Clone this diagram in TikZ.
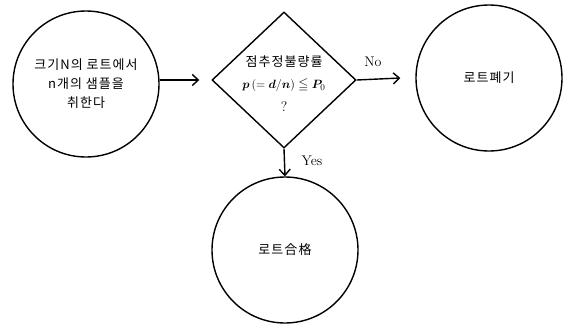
\documentclass[tikz,border=0pt]{standalone}
\usepackage{fontspec}
\usepackage{amssymb}
\usepackage{bm}
\newfontfamily\kr[LetterSpace=8]{Noto Sans CJK KR}
\usetikzlibrary{shapes.geometric,arrows.meta}
\begin{document}
\begin{tikzpicture}[x=1pt,y=-1pt,
  circ/.style={draw,circle,line width=1.4pt,minimum size=146pt,inner sep=0pt,align=center,font=\fontsize{13}{19}\kr},
  dia/.style={draw,diamond,line width=1.4pt,minimum width=144pt,minimum height=136pt,inner sep=0pt},
  dtext/.style={align=center,inner sep=0pt,font=\fontsize{13}{19}\kr},
  conn/.style={line width=1.4pt,-{Straight Barb[length=6pt,width=11pt,line width=1.4pt]}},
  lab/.style={font=\fontsize{14}{16}\selectfont}]
\useasboundingbox (0,0) rectangle (571,330);
\node[circ] (a) at (86,84) {크기N의 로트에서\\n개의 샘플을\\취한다};
\node[dia] (d) at (284,80) {};
\node[dtext] (dt) at (284,84) {점추정불량률\\[3pt] {\rmfamily\fontsize{13}{15}\selectfont$\bm{p}\,(=\bm{d}/\bm{n})\leqq \bm{P}_0$}\\[4pt] {\rmfamily\fontsize{14}{16}\selectfont ?}};
\node[circ] (r) at (489,78) {로트폐기};
\node[circ] (b) at (285,250) {로트合格};
\coordinate (a1) at (a.east |- d.west);
\draw[conn] (a1) -- ([xshift=-12pt]d.west);
\draw[conn] (d.east) -- ([xshift=-15pt]r.west);
\draw[conn] (d.south) -- (b.north);
\node[lab] (no) at (373,62) {No};
\node[lab] (yes) at (312,161) {Yes};
\end{tikzpicture}
\end{document}
